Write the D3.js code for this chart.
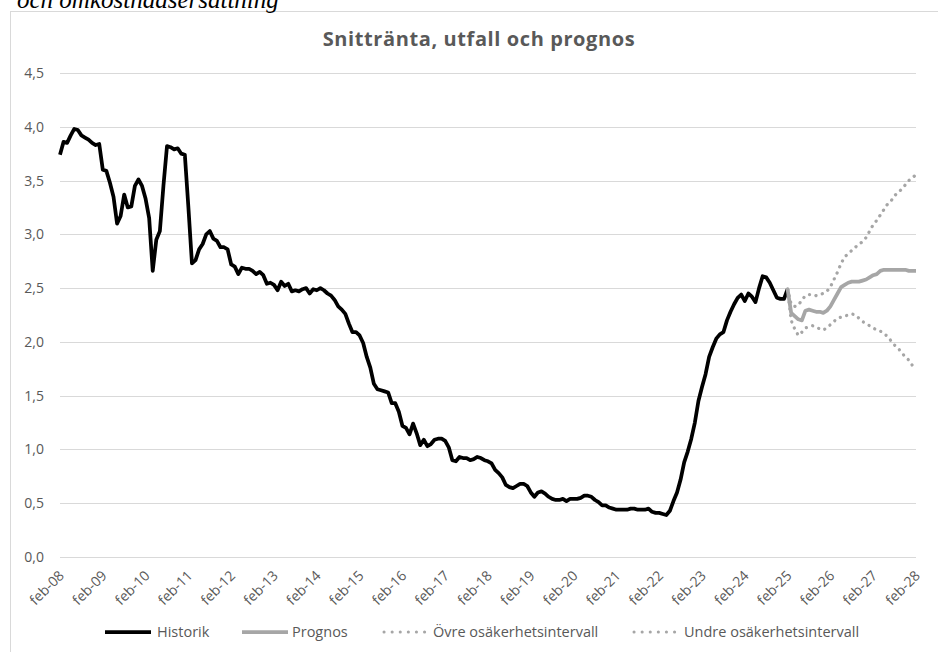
<!DOCTYPE html>
<html>
<head>
<meta charset="utf-8">
<script src="https://cdn.jsdelivr.net/npm/d3@7"></script>
<style>
  body { margin: 0; background: #fff; }
  svg text { font-family: "Open Sans", Lato, sans-serif; }
</style>
</head>
<body>
<div id="chart"></div>
<script>
// months feb-08 .. feb-28, one category per month
var months = d3.timeMonth.range(new Date(2008, 1, 1), new Date(2028, 2, 1)).map(d3.timeFormat('%Y-%m'))
var tickLabels = ['feb-08', 'feb-09', 'feb-10', 'feb-11', 'feb-12', 'feb-13', 'feb-14', 'feb-15', 'feb-16', 'feb-17',
                  'feb-18', 'feb-19', 'feb-20', 'feb-21', 'feb-22', 'feb-23', 'feb-24', 'feb-25', 'feb-26', 'feb-27', 'feb-28']
var yTicks = [0, 0.5, 1, 1.5, 2, 2.5, 3, 3.5, 4, 4.5]

// Historik: feb-08 .. feb-25
var historik = [
  3.74, 3.86, 3.85, 3.92, 3.98, 3.97, 3.92, 3.90, 3.88, 3.85, 3.83, 3.84,
  3.60, 3.59, 3.48, 3.35, 3.10, 3.17, 3.37, 3.25, 3.26, 3.45, 3.51, 3.45,
  3.33, 3.15, 2.66, 2.95, 3.03, 3.45, 3.82, 3.81, 3.79, 3.80, 3.75, 3.74,
  3.25, 2.73, 2.76, 2.86, 2.91, 3.00, 3.03, 2.96, 2.94, 2.88, 2.88, 2.86,
  2.72, 2.70, 2.63, 2.69, 2.68, 2.68, 2.66, 2.63, 2.65, 2.62, 2.54, 2.55,
  2.53, 2.48, 2.56, 2.52, 2.54, 2.47, 2.48, 2.47, 2.49, 2.50, 2.45, 2.49,
  2.48, 2.50, 2.48, 2.45, 2.43, 2.39, 2.33, 2.30, 2.26, 2.17, 2.09, 2.09,
  2.06, 1.99, 1.86, 1.76, 1.61, 1.56, 1.55, 1.54, 1.53, 1.43, 1.43, 1.35,
  1.22, 1.20, 1.14, 1.24, 1.15, 1.04, 1.09, 1.03, 1.05, 1.09, 1.10, 1.10,
  1.08, 1.02, 0.90, 0.89, 0.93, 0.92, 0.92, 0.90, 0.91, 0.93, 0.92, 0.90,
  0.89, 0.87, 0.81, 0.78, 0.74, 0.67, 0.65, 0.64, 0.66, 0.68, 0.68, 0.66,
  0.60, 0.56, 0.60, 0.61, 0.59, 0.56, 0.54, 0.53, 0.53, 0.54, 0.52, 0.54,
  0.54, 0.54, 0.55, 0.57, 0.57, 0.56, 0.53, 0.51, 0.48, 0.48, 0.46, 0.45,
  0.44, 0.44, 0.44, 0.44, 0.45, 0.45, 0.44, 0.44, 0.44, 0.45, 0.42, 0.41,
  0.41, 0.40, 0.39, 0.43, 0.52, 0.60, 0.72, 0.88, 0.98, 1.10, 1.25, 1.45,
  1.58, 1.70, 1.86, 1.95, 2.03, 2.07, 2.09, 2.20, 2.28, 2.35, 2.41, 2.44,
  2.38, 2.45, 2.42, 2.37, 2.50, 2.61, 2.60, 2.55, 2.48, 2.41, 2.40, 2.40,
  2.49
]
// Prognos and intervals: feb-25 .. feb-28
var prognos = [
  2.49, 2.27, 2.24, 2.21, 2.20, 2.29, 2.30, 2.29, 2.28, 2.28, 2.27, 2.29,
  2.33, 2.39, 2.45, 2.51, 2.53, 2.55, 2.56, 2.56, 2.56, 2.57, 2.58, 2.60,
  2.62, 2.63, 2.66, 2.67, 2.67, 2.67, 2.67, 2.67, 2.67, 2.67, 2.66, 2.66,
  2.66
]
var ovre = [
  2.49, 2.35, 2.33, 2.34, 2.39, 2.43, 2.44, 2.44, 2.43, 2.44, 2.45, 2.47,
  2.51, 2.58, 2.65, 2.73, 2.79, 2.82, 2.85, 2.88, 2.91, 2.93, 2.97, 3.03,
  3.09, 3.13, 3.18, 3.23, 3.28, 3.31, 3.36, 3.39, 3.42, 3.46, 3.50, 3.53,
  3.55
]
var undre = [
  2.49, 2.20, 2.12, 2.06, 2.09, 2.13, 2.14, 2.15, 2.14, 2.12, 2.11, 2.13,
  2.16, 2.19, 2.22, 2.23, 2.24, 2.25, 2.26, 2.25, 2.22, 2.19, 2.17, 2.15,
  2.13, 2.11, 2.10, 2.08, 2.05, 2.01, 1.97, 1.94, 1.90, 1.86, 1.83, 1.78,
  1.74
]
var progStart = months.indexOf('2025-02')

var W = 938, H = 652
var textColor = '#595959', gridColor = '#d9d9d9', grey = '#a6a6a6'

var svg = d3.select('#chart').append('svg')
  .attr('width', W)
  .attr('height', H)

// chart frame
svg.append('rect')
  .attr('x', 10.5)
  .attr('y', 11.5)
  .attr('width', W + 20)
  .attr('height', H + 20)
  .style('fill', '#fff')
  .style('stroke', gridColor)

// cropped caption above the chart (cut off at the top in the original too)
svg.append('text')
  .attr('x', 17)
  .attr('y', 8)
  .style('font-family', '"Liberation Serif", serif')
  .style('font-style', 'italic')
  .style('font-size', '25px')
  .style('fill', '#000')
  .text('och omkostnadsersättning')

svg.append('text')
  .attr('x', 479)
  .attr('y', 46)
  .attr('text-anchor', 'middle')
  .style('font-size', '20px')
  .style('font-weight', 'bold')
  .style('letter-spacing', '0.6px')
  .style('fill', textColor)
  .text('Snittränta, utfall och prognos')

var x = d3.scalePoint().domain(months).range([60, 916])
var y = d3.scaleLinear().domain([0, 4.5]).range([557, 73])

var yAxis = svg.append('g')
  .attr('transform', 'translate(60,0)')
  .call(d3.axisLeft(y).tickValues(yTicks).tickSize(-856).tickPadding(16)
    .tickFormat(function(d) { return d3.format('.1f')(d).replace('.', ',') }))
yAxis.select('.domain').remove()
yAxis.selectAll('line').style('stroke', gridColor).attr('shape-rendering', 'crispEdges')
yAxis.selectAll('text').style('font-size', '14px').style('fill', textColor)

var xAxis = svg.append('g')
  .attr('transform', 'translate(0,557)')
  .call(d3.axisBottom(x).tickValues(months.filter(function(d, i) { return i % 12 === 0 })).tickSize(0)
    .tickFormat(function(d, i) { return tickLabels[i] }))
xAxis.select('.domain').remove()
xAxis.selectAll('text')
  .attr('text-anchor', 'end')
  .attr('dy', '0.35em')
  .attr('y', 0)
  .attr('transform', 'translate(1,16) rotate(-45)')
  .style('font-size', '14px')
  .style('fill', textColor)

var line = d3.line()
  .x(function(d) { return x(months[d[0]]) })
  .y(function(d) { return y(d[1]) })

function series(arr, start) {
  return arr.map(function(v, i) { return [start + i, v] })
}

svg.append('path')
  .datum(series(historik, 0))
  .attr('d', line)
  .style('fill', 'none')
  .style('stroke', '#000')
  .style('stroke-width', 3.75)
  .style('stroke-linejoin', 'round')

svg.append('path')
  .datum(series(ovre, progStart))
  .attr('d', line)
  .style('fill', 'none')
  .style('stroke', grey)
  .style('stroke-width', 3.25)
  .style('stroke-linecap', 'round')
  .style('stroke-dasharray', '0.1 6.5')

svg.append('path')
  .datum(series(undre, progStart))
  .attr('d', line)
  .style('fill', 'none')
  .style('stroke', grey)
  .style('stroke-width', 3.25)
  .style('stroke-linecap', 'round')
  .style('stroke-dasharray', '0.1 6.5')

svg.append('path')
  .datum(series(prognos, progStart))
  .attr('d', line)
  .style('fill', 'none')
  .style('stroke', grey)
  .style('stroke-width', 3.75)
  .style('stroke-linejoin', 'round')

// legend
var legendItems = [
  { name: 'Historik', color: '#000', dotted: false, x0: 105, tx: 157 },
  { name: 'Prognos', color: grey, dotted: false, x0: 242, tx: 292 },
  { name: 'Övre osäkerhetsintervall', color: grey, dotted: true, x0: 384, tx: 433 },
  { name: 'Undre osäkerhetsintervall', color: grey, dotted: true, x0: 634, tx: 684 }
]
var legend = svg.append('g').attr('transform', 'translate(0,632)')
legendItems.forEach(function(d) {
  legend.append('line')
    .attr('x1', d.x0)
    .attr('x2', d.x0 + 46)
    .attr('y1', 0)
    .attr('y2', 0)
    .style('stroke', d.color)
    .style('stroke-width', d.dotted ? 3 : 3.75)
    .style('stroke-linecap', d.dotted ? 'round' : 'butt')
    .style('stroke-dasharray', d.dotted ? '0.1 8' : null)
  legend.append('text')
    .attr('x', d.tx)
    .attr('y', 0)
    .attr('dy', '0.35em')
    .style('font-size', '14.5px')
    .style('fill', textColor)
    .text(d.name)
})
</script>
</body>
</html>
